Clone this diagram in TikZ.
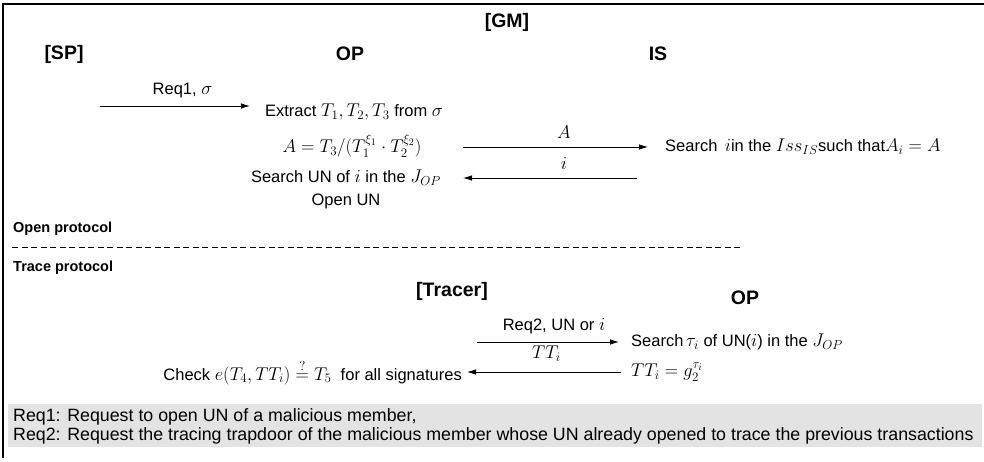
\RequirePackage{fix-cm}
\documentclass[tikz,border=0pt]{standalone}
\usepackage{amsmath}
\usepackage{fontspec}
\setmainfont{Liberation Sans}
\DeclareMathSizes{16.5}{18.5}{13}{10}
\usetikzlibrary{arrows.meta,positioning}

\begin{document}
\begin{tikzpicture}[x=1pt, y=-1pt,
  txt/.style={font=\fontsize{16.5}{19}\selectfont, inner sep=0pt},
  cab/.style={font=\fontsize{19.5}{22}\selectfont\bfseries, inner sep=0pt},
  sec/.style={font=\fontsize{14.5}{16}\selectfont\bfseries, inner sep=0pt, anchor=west},
  nota/.style={font=\fontsize{17.8}{19}\selectfont, inner sep=0pt, anchor=west},
  flecha/.style={-{Latex[length=9pt,width=5.5pt]}, line width=0.8pt}]
\useasboundingbox (0,0) rectangle (984,461);
% marco y banda de notas
\draw[line width=1.2pt] (984,4) -- (3,4) -- (3,458);
\fill[gray!22] (8,404) rectangle (982,447);
% cabeceras
\node[cab] (gm) at (507,22) {[GM]};
\node[cab] (sp) at (64,54) {[SP]};
\node[cab] (op) at (350,54) {OP};
\node[cab] (is) at (658,54) {IS};
% open protocol
\node[txt] (ext) at (354,112) {Extract $T_1,T_2,T_3$ from $\sigma$};
\node[txt] (aeq) at (352,146) {$A=T_3/(T_1^{\xi_1}\cdot T_2^{\xi_2})$};
\node[txt] (sun) at (346,178) {Search UN of $i$ in the $J_{OP}$};
\node[txt, below=8pt of sun] (oun) {Open UN};
\node[txt, anchor=west] (iss) at (665,147) {Search \,$i$in the $Iss_{IS}$such that$A_i=A$};
\coordinate (r1) at (100,106);
\coordinate (ca) at (463,147);
\coordinate (ci) at (463,178);
\draw[flecha, shorten >=15pt] (r1) -- (r1 -| ext.west) node[midway, above=4pt] (lr1) {\fontsize{16.5}{19}\selectfont Req1, $\sigma$};
\draw[flecha, shorten >=17pt] (ca) -- (iss.west) node[midway, above=5pt] (la) {\fontsize{16.5}{19}\selectfont $A$};
\draw[flecha, shorten <=28pt] (ci -| iss.west) -- (ci) node[midway, above=5pt] (li) {\fontsize{16.5}{19}\selectfont $i$};
% separador
\node[sec] (opp) at (13,229) {Open protocol};
\draw[dash pattern=on 6pt off 3.5pt, line width=0.7pt] (12,247) -- (743,247);
\node[sec] (trp) at (13,268) {Trace protocol};
% trace protocol
\node[cab] (tr) at (452,291) {[Tracer]};
\node[cab] (op2) at (745,298) {OP};
\node[txt, anchor=west] (stau) at (631,342) {Search\,$\tau_i$ of UN($i$) in the $J_{OP}$};
\node[txt, anchor=west] (ttg) at (631,372) {$TT_i=g_2^{\tau_i}$};
\node[txt, anchor=east] (chk) at (462,372) {Check $e(T_4,TT_i)\overset{?}{=}T_5$ \ for all signatures};
\coordinate (r2) at (477,342);
\draw[flecha, shorten >=12pt] (r2) -- (stau.west) node[midway, above=4pt] (lr2) {\fontsize{16.5}{19}\selectfont Req2, UN or $i$};
\draw[flecha, shorten <=10pt, shorten >=5pt] (ttg.west) -- (chk.east) node[midway, above=7pt] (ltt) {\fontsize{16.5}{19}\selectfont $TT_i$};
% notas
\node[nota] (n1) at (13,417) {Req1: Request to open UN of a malicious member,};
\node[nota] (n2) at (13,436) {Req2: Request the tracing trapdoor of the malicious member whose UN already opened to trace the previous transactions};
\end{tikzpicture}
\end{document}
